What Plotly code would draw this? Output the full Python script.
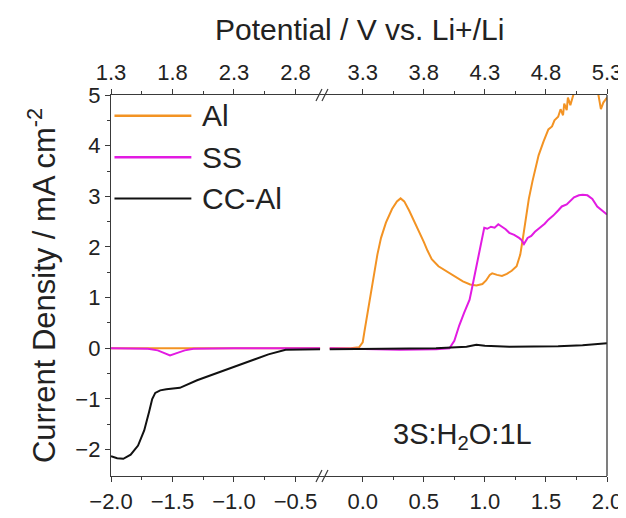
import plotly.graph_objects as go

# ---------------- data (bottom axis: V, left of the break / right of the break) ----------------
POT_OFFSET = 3.3  # top axis: Potential vs Li+/Li = bottom value + 3.3

al_left_x = [-2.0, -1.5, -1.0, -0.5, -0.30]
al_left_y = [0.0, 0.0, 0.0, 0.0, 0.0]
al_right_x = [-0.27, -0.10, -0.03, 0.0, 0.014, 0.04, 0.068, 0.095, 0.12, 0.15, 0.19, 0.24, 0.28,
              0.31, 0.34, 0.38, 0.42, 0.46, 0.50, 0.53, 0.565, 0.62, 0.69, 0.75, 0.82, 0.88, 0.93,
              0.98, 1.01, 1.04, 1.06, 1.10, 1.14, 1.18, 1.22, 1.26, 1.29, 1.31, 1.33, 1.36, 1.39,
              1.44, 1.48, 1.52, 1.55, 1.57, 1.60, 1.62, 1.64, 1.65, 1.67, 1.68, 1.70, 1.73, 1.76,
              1.80, 1.85, 1.90, 1.93, 1.95, 1.97, 2.0]
al_right_y = [0.0, 0.0, 0.02, 0.12, 0.33, 0.70, 1.09, 1.48, 1.85, 2.18, 2.48, 2.75, 2.90,
              2.96, 2.90, 2.72, 2.52, 2.30, 2.10, 1.93, 1.76, 1.62, 1.52, 1.43, 1.32, 1.26, 1.24,
              1.27, 1.34, 1.45, 1.48, 1.45, 1.43, 1.47, 1.53, 1.62, 1.85, 2.15, 2.48, 2.95, 3.30,
              3.81, 4.08, 4.32, 4.38, 4.50, 4.57, 4.72, 4.60, 4.83, 4.70, 4.95, 4.80, 5.05, 5.2,
              5.4, 5.5, 5.4, 5.0, 4.72, 4.85, 4.95]

ss_left_x = [-2.0, -1.70, -1.62, -1.56, -1.52, -1.46, -1.40, -1.33, -1.0, -0.30]
ss_left_y = [0.0, -0.01, -0.04, -0.10, -0.14, -0.09, -0.04, -0.01, 0.0, 0.0]
ss_right_x = [-0.27, 0.0, 0.3, 0.6, 0.71, 0.75, 0.79, 0.83, 0.875, 0.90, 0.928, 0.95, 0.97,
              0.995, 1.02, 1.05, 1.08, 1.11, 1.14, 1.17, 1.20, 1.24, 1.28, 1.30, 1.32, 1.35, 1.38,
              1.41, 1.45, 1.49, 1.52, 1.56, 1.60, 1.63, 1.67, 1.70, 1.73, 1.77, 1.80, 1.84, 1.88,
              1.92, 1.96, 2.0]
ss_right_y = [0.0, -0.02, -0.03, -0.02, 0.0, 0.15, 0.45, 0.70, 0.96, 1.25, 1.59, 1.85, 2.10,
              2.38, 2.36, 2.40, 2.38, 2.45, 2.40, 2.35, 2.28, 2.24, 2.18, 2.14, 2.06, 2.18, 2.22,
              2.30, 2.38, 2.46, 2.54, 2.62, 2.72, 2.80, 2.84, 2.92, 2.98, 3.02, 3.03, 3.02, 2.95,
              2.80, 2.72, 2.64]

cc_left_x = [-2.0, -1.95, -1.90, -1.84, -1.78, -1.73, -1.69, -1.665, -1.64, -1.60, -1.55, -1.44,
             -1.30, -1.12, -0.90, -0.72, -0.58, -0.45, -0.30]
cc_left_y = [-2.13, -2.17, -2.18, -2.10, -1.92, -1.62, -1.25, -1.0, -0.88, -0.83, -0.81, -0.78,
             -0.63, -0.47, -0.29, -0.12, -0.03, -0.02, -0.02]
cc_right_x = [-0.27, 0.2, 0.6, 0.85, 0.93, 1.0, 1.2, 1.6, 1.8, 2.0]
cc_right_y = [-0.02, -0.01, 0.0, 0.03, 0.07, 0.05, 0.03, 0.04, 0.06, 0.10]

series_names = ["Al", "SS", "CC-Al"]
series_colors = ["#F39323", "#E21BE2", "#111111"]

bottom_left_ticks = [-2.0, -1.5, -1.0, -0.5]
bottom_right_ticks = [0.0, 0.5, 1.0, 1.5, 2.0]
top_left_ticks = [1.3, 1.8, 2.3, 2.8]
top_right_ticks = [3.3, 3.8, 4.3, 4.8, 5.3]
y_ticks = [-2, -1, 0, 1, 2, 3, 4, 5]

# ---------------- figure ----------------
W, H = 626, 518
ML, MR, MT, MB = 103, 20, 87, 35
SPLIT = 0.4314
LEFT_RANGE = [-2.0, -0.26]
RIGHT_RANGE = [-0.309, 2.0]
FONT = "Liberation Sans, Arial, sans-serif"
AXC = "#3a3a3a"
TXT = "#222222"

fig = go.Figure()
segments = [
    (al_left_x, al_left_y, al_right_x, al_right_y),
    (ss_left_x, ss_left_y, ss_right_x, ss_right_y),
    (cc_left_x, cc_left_y, cc_right_x, cc_right_y),
]
for name, color, (lx, ly, rx, ry) in zip(series_names, series_colors, segments):
    fig.add_trace(go.Scatter(x=lx, y=ly, xaxis="x", yaxis="y", mode="lines", name=name,
                             line=dict(color=color, width=2), showlegend=False))
    fig.add_trace(go.Scatter(x=rx, y=ry, xaxis="x2", yaxis="y", mode="lines", name=name,
                             line=dict(color=color, width=2), showlegend=False))

# potential-scale copies (invisible) so the top axes exist
fig.add_trace(go.Scatter(x=[v + POT_OFFSET for v in cc_left_x], y=cc_left_y, xaxis="x3", yaxis="y",
                         mode="lines", opacity=0, hoverinfo="skip", showlegend=False))
fig.add_trace(go.Scatter(x=[v + POT_OFFSET for v in cc_right_x], y=cc_right_y, xaxis="x4", yaxis="y",
                         mode="lines", opacity=0, hoverinfo="skip", showlegend=False))

def mid(vals):
    return [(a + b) / 2 for a, b in zip(vals[:-1], vals[1:])]

common = dict(showline=True, linecolor=AXC, linewidth=1.3, ticks="outside", ticklen=5,
              tickwidth=1.2, tickcolor=AXC, showgrid=False, zeroline=False,
              tickfont=dict(family=FONT, size=22, color=TXT), tickformat=".1f")

fig.update_layout(
    width=W, height=H,
    margin=dict(l=ML, r=MR, t=MT, b=MB),
    paper_bgcolor="white", plot_bgcolor="white",
    showlegend=False,
    xaxis=dict(domain=[0, SPLIT], range=LEFT_RANGE, anchor="y", tickvals=bottom_left_ticks,
               minor=dict(tickvals=mid(bottom_left_ticks), ticklen=3, ticks="outside",
                          tickcolor=AXC, tickwidth=1), **common),
    xaxis2=dict(domain=[SPLIT, 1], range=RIGHT_RANGE, anchor="y", tickvals=bottom_right_ticks,
                minor=dict(tickvals=mid(bottom_right_ticks), ticklen=3, ticks="outside",
                           tickcolor=AXC, tickwidth=1), **common),
    xaxis3=dict(overlaying="x", side="top", anchor="y",
                range=[v + POT_OFFSET for v in LEFT_RANGE], tickvals=top_left_ticks,
                minor=dict(tickvals=mid(top_left_ticks), ticklen=3, ticks="outside",
                           tickcolor=AXC, tickwidth=1), **common),
    xaxis4=dict(overlaying="x2", side="top", anchor="y",
                range=[v + POT_OFFSET for v in RIGHT_RANGE], tickvals=top_right_ticks,
                minor=dict(tickvals=mid(top_right_ticks), ticklen=3, ticks="outside",
                           tickcolor=AXC, tickwidth=1), **common),
    yaxis=dict(domain=[0, 1], range=[-2.52, 5], anchor="x", tickvals=y_ticks,
               showline=True, linecolor=AXC, linewidth=1.3, ticks="outside", ticklen=5,
               tickwidth=1.2, tickcolor=AXC, showgrid=False, zeroline=False,
               tickfont=dict(family=FONT, size=22, color=TXT),
               minor=dict(tickvals=[v + 0.5 for v in y_ticks[:-1]], ticklen=3, ticks="outside",
                          tickcolor=AXC, tickwidth=1),
               title=dict(text="Current Density / mA cm<sup>-2</sup>",
                          font=dict(family=FONT, size=31, color=TXT), standoff=10)),
)

shapes = [dict(type="line", xref="paper", yref="paper", x0=1, x1=1, y0=0, y1=1,
               line=dict(color=AXC, width=1.3))]
# axis-break marks
for yanc in (0, 1):
    for dx in (-6, 0):
        shapes.append(dict(type="line", xref="paper", yref="paper", xsizemode="pixel",
                           ysizemode="pixel", xanchor=SPLIT, yanchor=yanc,
                           x0=dx - 3, x1=dx + 3, y0=-6, y1=6,
                           line=dict(color=AXC, width=1.2)))
# legend sample lines
leg_y = [0.9457, 0.8369, 0.7282]
for yy, col in zip(leg_y, series_colors):
    shapes.append(dict(type="line", xref="paper", yref="paper", x0=0.007, x1=0.162, y0=yy, y1=yy,
                       line=dict(color=col, width=2.5 if col != "#111111" else 2)))
fig.update_layout(shapes=shapes)

annotations = []
for yy, name in zip(leg_y, series_names):
    annotations.append(dict(xref="paper", yref="paper", x=0.180, y=yy, text=name, showarrow=False,
                            xanchor="left", yanchor="middle",
                            font=dict(family=FONT, size=30, color=TXT)))
annotations.append(dict(xref="paper", yref="paper", x=0.709, y=0.104, text="3S:H<sub>2</sub>O:1L",
                        showarrow=False, xanchor="center", yanchor="middle",
                        font=dict(family=FONT, size=29, color=TXT)))
annotations.append(dict(xref="paper", yref="paper", x=0.5, y=1.171,
                        text="Potential / V vs. Li+/Li", showarrow=False,
                        xanchor="center", yanchor="middle",
                        font=dict(family=FONT, size=30, color=TXT)))
fig.update_layout(annotations=annotations)

fig.write_html("out.html")
